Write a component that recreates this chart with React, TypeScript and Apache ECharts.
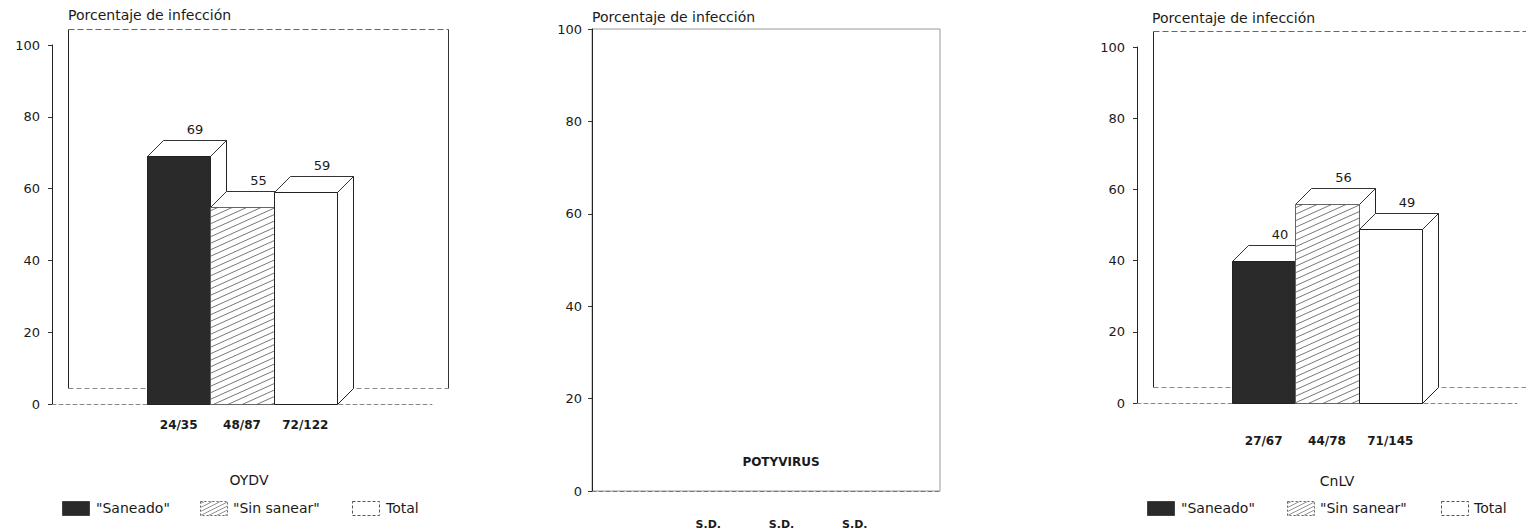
import React, { useEffect, useRef } from 'react';
import * as echarts from 'echarts';

// Series names (legend) and per-panel data
const categories = ['"Saneado"', '"Sin sanear"', 'Total'];
const oydvValues = [69, 55, 59];
const oydvCounts = ['24/35', '48/87', '72/122'];
const cnlvValues = [40, 56, 49];
const cnlvCounts = ['27/67', '44/78', '71/145'];
const potyLabels = ['S.D.', 'S.D.', 'S.D.'];
const panelNames = ['OYDV', 'POTYVIRUS', 'CnLV'];
const yTitle = 'Porcentaje de infección';

// depth of the pseudo-3D boxes, in pixels
const DX = 16;
const DY = -16;
const FONT = '"DejaVu Sans", "Liberation Sans", sans-serif';
const INK = '#1a1a1a';
const DARK = '#2a2a2a';

// snap a coordinate to the pixel centre so 1px strokes stay crisp
const px = (v: number) => Math.round(v) + 0.5;

// Diagonal hatching clipped to a rectangle
function hatch(x0: number, y0: number, x1: number, y1: number, step: number, slope: number, color: string, width: number) {
  const out: any[] = [];
  const w = x1 - x0;
  for (let c = y0 + step / 2; c < y1 + slope * w; c += step) {
    let ax = x0;
    let ay = c;
    if (ay > y1) {
      ax = x0 + (ay - y1) / slope;
      ay = y1;
    }
    let bx = x1;
    let by = c - slope * w;
    if (by < y0) {
      bx = x0 + (c - y0) / slope;
      by = y0;
    }
    if (bx - ax < 0.5) continue;
    out.push({
      type: 'line',
      silent: true,
      shape: { x1: ax, y1: ay, x2: bx, y2: by },
      style: { stroke: color, lineWidth: width },
    });
  }
  return out;
}

// Back wall and back floor edge of a 3D panel
function renderFrame(_params: any, api: any) {
  const p0 = api.coord([0, 0]);
  const p1 = api.coord([6, 100]);
  const l = px(p0[0] + DX);
  const r = px(p1[0] + DX);
  const t = px(p1[1] + DY);
  const b = px(p0[1] + DY);
  return {
    type: 'group',
    children: [
      { type: 'line', shape: { x1: l, y1: t, x2: l, y2: b }, style: { stroke: '#222', lineWidth: 1, lineDash: null } },
      { type: 'line', shape: { x1: l, y1: t, x2: r, y2: t }, style: { stroke: '#666', lineWidth: 1, lineDash: [6, 3] } },
      { type: 'line', shape: { x1: r, y1: t, x2: r, y2: b }, style: { stroke: '#333', lineWidth: 1, lineDash: null } },
      { type: 'line', shape: { x1: l, y1: b, x2: r, y2: b }, style: { stroke: '#888', lineWidth: 1, lineDash: [5, 3] } },
    ],
  };
}

// One pseudo-3D bar: side face, top face, front face and value label
function renderBar(_params: any, api: any) {
  const x = api.value(0);
  const v = api.value(1);
  const kind = api.value(2);
  const base = api.coord([x - 0.5, 0]);
  const top = api.coord([x + 0.5, v]);
  const l = px(base[0]);
  const r = px(top[0]);
  const t = px(top[1]);
  const b = px(base[1]);
  const children: any[] = [
    {
      type: 'polygon',
      shape: { points: [[r, t], [r + DX, t + DY], [r + DX, b + DY], [r, b]] },
      style: { fill: '#fff', stroke: '#222', lineWidth: 1 },
    },
    {
      type: 'polygon',
      shape: { points: [[l, t], [r, t], [r + DX, t + DY], [l + DX, t + DY]] },
      style: { fill: '#fff', stroke: '#333', lineWidth: 1 },
    },
    {
      type: 'rect',
      shape: { x: l, y: t, width: r - l, height: b - t },
      style: { fill: kind === 0 ? DARK : '#fff', stroke: kind === 1 ? '#666' : '#222', lineWidth: 1 },
    },
  ];
  if (kind === 1) children.push(...hatch(l, t, r, b, 6.5, 0.45, '#555', 0.8));
  children.push({
    type: 'text',
    x: (l + r) / 2 + DX,
    y: t + DY - 5,
    style: {
      text: String(v),
      textAlign: 'center',
      textVerticalAlign: 'bottom',
      font: `13px ${FONT}`,
      fill: INK,
    },
  });
  return { type: 'group', children };
}

function label(text: string, x: number, y: number, size: number, bold = false, align = 'left') {
  return {
    type: 'text',
    x,
    y,
    silent: true,
    style: {
      text,
      textAlign: align,
      textVerticalAlign: 'middle',
      font: `${bold ? 'bold ' : ''}${size}px ${FONT}`,
      fill: INK,
    },
  };
}

// Legend row: dark swatch, hatched swatch, empty box
function legendRow(xs: number[], textXs: number[], y: number) {
  const h = 14;
  const w = 27;
  const top = y - h / 2 + 0.5;
  const out: any[] = [];
  out.push({ type: 'rect', shape: { x: xs[0] + 0.5, y: top, width: w, height: h }, style: { fill: DARK, stroke: '#444', lineWidth: 1 } });
  out.push({ type: 'rect', shape: { x: xs[1] + 0.5, y: top, width: w, height: h }, style: { fill: '#fff', stroke: '#666', lineWidth: 1, lineDash: [2, 2] } });
  out.push(...hatch(xs[1] + 0.5, top, xs[1] + 0.5 + w, top + h, 4, 0.5, '#666', 0.7));
  out.push({ type: 'rect', shape: { x: xs[2] + 0.5, y: top, width: w, height: h }, style: { fill: '#fff', stroke: '#555', lineWidth: 1, lineDash: [3, 2] } });
  categories.forEach((c, i) => out.push(label(c, textXs[i], y, 14)));
  return out;
}

const yAxisBase = (gridIndex: number, margin: number) => ({
  gridIndex,
  type: 'value',
  min: 0,
  max: 100,
  interval: 20,
  axisLine: { show: true, lineStyle: { color: '#222', width: 1 } },
  axisTick: { show: true, length: 4, lineStyle: { color: '#333' } },
  axisLabel: { margin, color: INK, fontFamily: FONT, fontSize: 13 },
  splitLine: { show: false },
});

const countAxis = (gridIndex: number, counts: string[], margin: number) => ({
  gridIndex,
  type: 'value',
  min: 0,
  max: 6,
  interval: 1,
  axisLine: { show: true, onZero: false, lineStyle: { color: '#888', type: [4, 3] } },
  axisTick: { show: false },
  splitLine: { show: false },
  axisLabel: {
    margin,
    color: INK,
    fontFamily: FONT,
    fontSize: 12,
    fontWeight: 'bold',
    formatter: (v: number) => counts[v - 2] ?? '',
  },
});

const option: any = {
  animation: false,
  backgroundColor: '#fff',
  grid: [
    { left: 52, top: 45, width: 380, height: 359, outerBoundsMode: 'none' },
    { left: 592, top: 29, width: 348, height: 462, show: true, borderColor: '#999', borderWidth: 1, outerBoundsMode: 'none' },
    { left: 635, top: 29, width: 293, height: 462, outerBoundsMode: 'none' },
    { left: 1137, top: 47, width: 380, height: 356, outerBoundsMode: 'none' },
  ],
  xAxis: [
    countAxis(0, oydvCounts, 15),
    {
      gridIndex: 1,
      type: 'value',
      min: 0,
      max: 1,
      axisLine: { show: true, lineStyle: { color: '#777', type: [4, 3] } },
      axisTick: { show: false },
      axisLabel: { show: false },
      splitLine: { show: false },
    },
    {
      gridIndex: 2,
      type: 'value',
      min: 0,
      max: 4,
      interval: 1,
      axisLine: { show: false },
      axisTick: { show: false },
      splitLine: { show: false },
      axisLabel: {
        margin: 28,
        color: INK,
        fontFamily: FONT,
        fontSize: 11,
        fontWeight: 'bold',
        formatter: (v: number) => potyLabels[v - 1] ?? '',
      },
    },
    countAxis(3, cnlvCounts, 32),
  ],
  yAxis: [
    yAxisBase(0, 12),
    yAxisBase(1, 10),
    { gridIndex: 2, type: 'value', min: 0, max: 100, show: false },
    yAxisBase(3, 12),
  ],
  series: [
    { type: 'custom', xAxisIndex: 0, yAxisIndex: 0, z: 1, silent: true, renderItem: renderFrame, data: [[0, 0]] },
    {
      type: 'custom',
      name: 'OYDV',
      xAxisIndex: 0,
      yAxisIndex: 0,
      z: 2,
      renderItem: renderBar,
      data: oydvValues.map((v, i) => [i + 2, v, i]),
    },
    { type: 'custom', xAxisIndex: 3, yAxisIndex: 3, z: 1, silent: true, renderItem: renderFrame, data: [[0, 0]] },
    {
      type: 'custom',
      name: 'CnLV',
      xAxisIndex: 3,
      yAxisIndex: 3,
      z: 2,
      renderItem: renderBar,
      data: cnlvValues.map((v, i) => [i + 2, v, i]),
    },
  ],
  graphic: [
    label(yTitle, 68, 15, 14),
    label(yTitle, 592, 17, 14),
    label(yTitle, 1152, 18, 14),
    label(panelNames[0], 249, 480, 14, false, 'center'),
    label(panelNames[1], 781, 462, 12, true, 'center'),
    label(panelNames[2], 1337, 481, 14, false, 'center'),
    ...legendRow([62, 200, 352], [96, 233, 386], 508),
    ...legendRow([1147, 1287, 1441], [1181, 1320, 1474], 508),
  ],
};

export default function App() {
  const ref = useRef<HTMLDivElement>(null);
  useEffect(() => {
    if (!ref.current) return;
    const chart = echarts.init(ref.current, null, { renderer: 'svg' });
    chart.setOption(option);
    return () => chart.dispose();
  }, []);
  return (
    <div
      ref={ref}
      style={{ position: 'fixed', left: 0, top: 0, width: 1526, height: 532, background: '#fff' }}
    />
  );
}
